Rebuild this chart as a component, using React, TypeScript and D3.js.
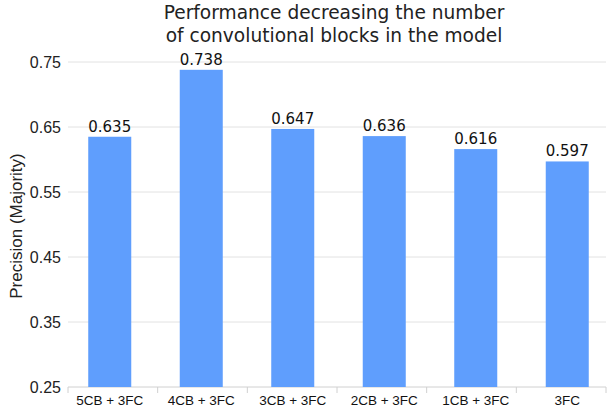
import React from "react";
import * as d3 from "d3";

const categories = ["5CB + 3FC", "4CB + 3FC", "3CB + 3FC", "2CB + 3FC", "1CB + 3FC", "3FC"];
const values = [0.635, 0.738, 0.647, 0.636, 0.616, 0.597];
const yTicks = [0.25, 0.35, 0.45, 0.55, 0.65, 0.75];

const width = 608;
const height = 408;

export default function App() {
  const plotLeft = 68;
  const plotRight = 606;
  const plotTop = 62;
  const plotBottom = 387;

  // bars sit on a slightly wider band than the axis tick separators
  const x = d3.scaleBand<string>().domain(categories).range([64, 613]).paddingInner(0.53).paddingOuter(0.265);
  const sep = d3.scaleLinear().domain([0, categories.length]).range([plotLeft, plotRight]);
  const y = d3.scaleLinear().domain([0.25, 0.75]).range([plotBottom, plotTop]);

  return (
    <svg width={width} height={height} style={{ position: "absolute", left: 0, top: 0 }}>
      <rect width={width} height={height} fill="#fff" />
      <text x={334} y={18.5} textAnchor="middle" fontFamily="DejaVu Sans" fontSize={18.6} fill="#222">
        Performance decreasing the number
      </text>
      <text x={334} y={42} textAnchor="middle" fontFamily="DejaVu Sans" fontSize={18.6} fill="#222">
        of convolutional blocks in the model
      </text>

      {yTicks.map((t) => (
        <g key={t}>
          <line x1={plotLeft} x2={plotRight} y1={y(t)} y2={y(t)} stroke={t === 0.25 ? "#d0d0d0" : "#e2e2e2"} strokeWidth={1} />
          <text x={61} y={y(t) + 6} textAnchor="end" fontFamily="Liberation Sans" fontSize={16} fill="#222">
            {t.toFixed(2)}
          </text>
        </g>
      ))}

      {d3.range(categories.length + 1).map((i) => (
        <line key={i} x1={sep(i)} x2={sep(i)} y1={plotBottom} y2={plotBottom + 6} stroke="#d0d0d0" />
      ))}

      {categories.map((c, i) => (
        <g key={c}>
          <rect x={x(c)} y={y(values[i])} width={x.bandwidth()} height={plotBottom - y(values[i])} fill="#5f9efd" />
          <text x={(x(c) ?? 0) + x.bandwidth() / 2} y={y(values[i]) - 5} textAnchor="middle" fontFamily="DejaVu Sans" fontSize={15} fill="#111">
            {values[i].toFixed(3)}
          </text>
          <text x={(x(c) ?? 0) + x.bandwidth() / 2} y={405} textAnchor="middle" fontFamily="Liberation Sans" fontSize={13.5} fill="#111">
            {c}
          </text>
        </g>
      ))}

      <text transform={`translate(22,226) rotate(-90)`} textAnchor="middle" fontFamily="Liberation Sans" fontSize={17} fill="#222">
        Precision (Majority)
      </text>
    </svg>
  );
}
